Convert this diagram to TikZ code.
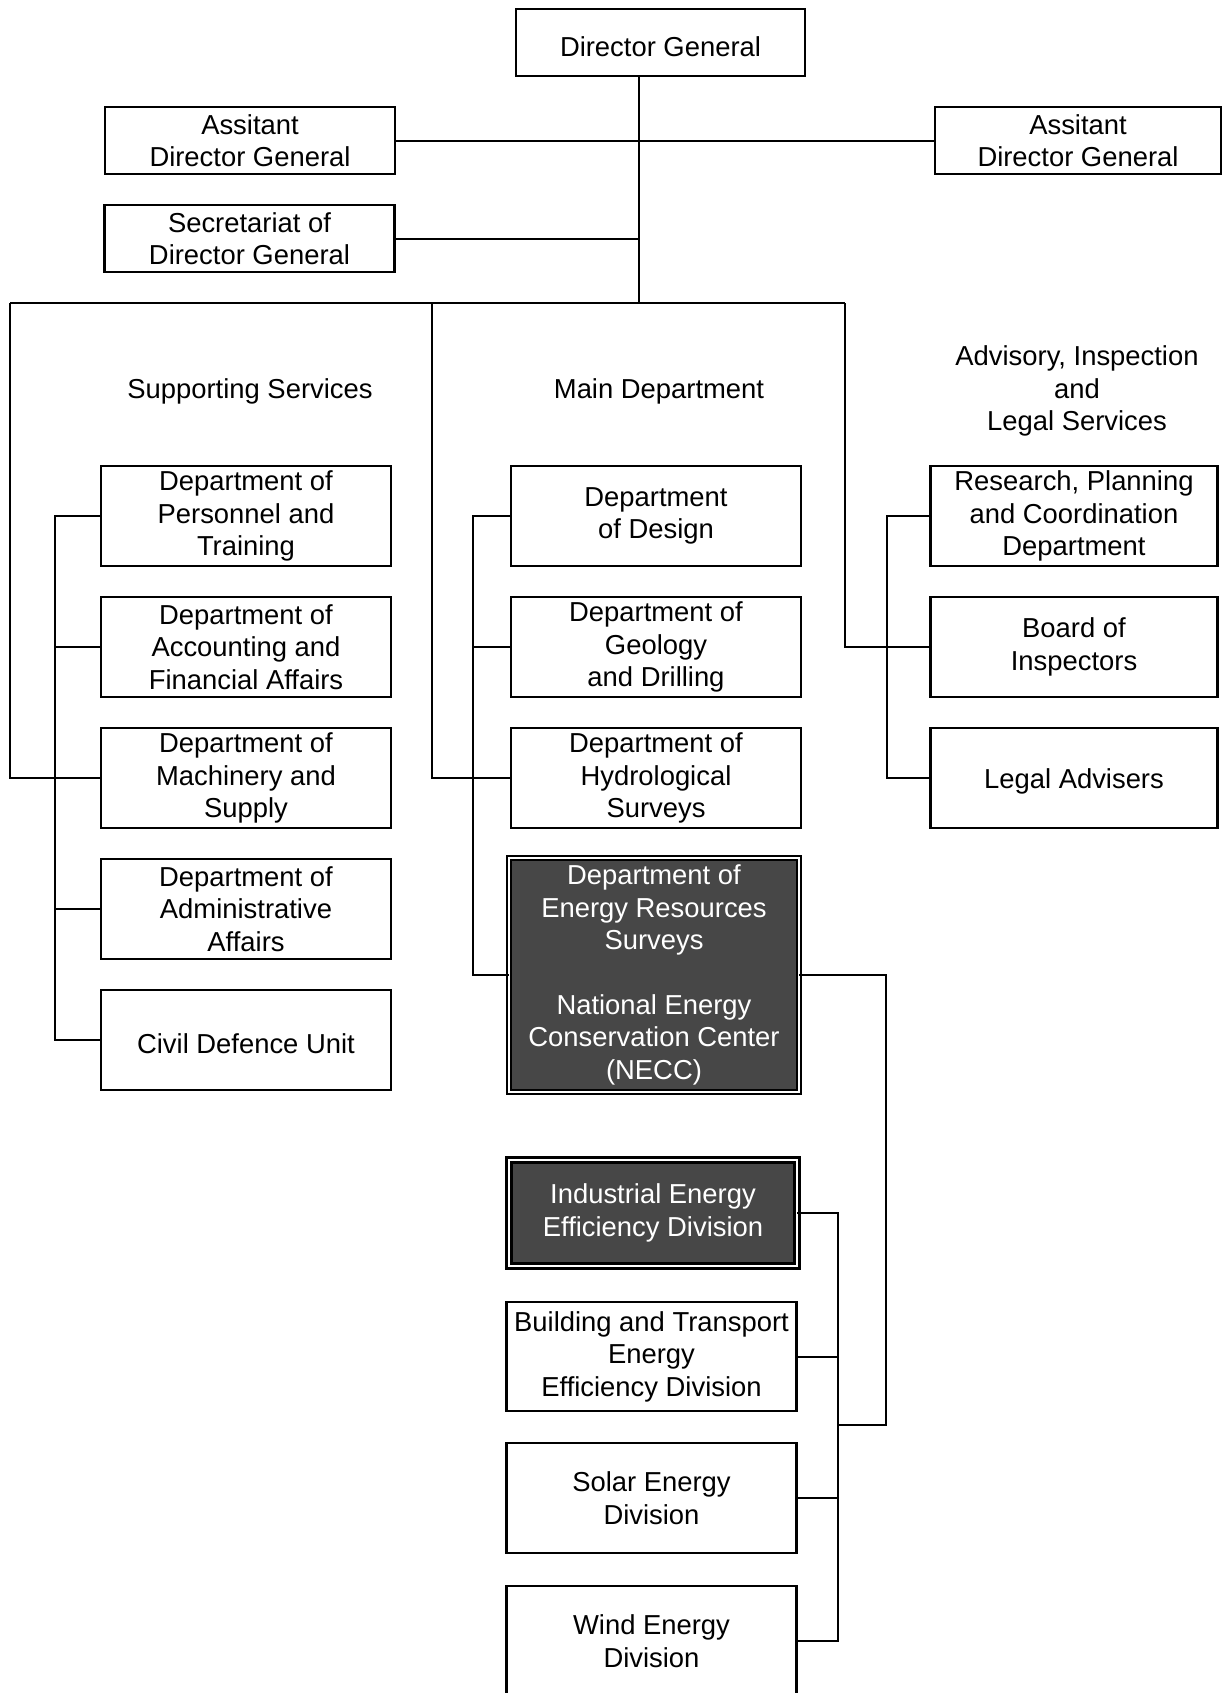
\documentclass[tikz,border=0pt]{standalone}
\usepackage{fontspec}
\setmainfont{Liberation Sans}
\usetikzlibrary{positioning}

\begin{document}
\begin{tikzpicture}[x=0.5pt,y=-0.5pt,
  node distance=15.5pt,
  orgbox/.style={rectangle,draw,line width=1.3pt,outer sep=0pt,inner sep=0pt,minimum width=145pt,minimum height=50pt,align=center,font=\fontsize{13.7pt}{16.2pt}\selectfont,execute at begin node={\rule{0pt}{13.8pt}}},
  darkbox/.style={orgbox,fill=black!72,text=white,line width=0.8pt,double=white,double distance=1.2pt},
  heading/.style={align=center,font=\fontsize{13.7pt}{16.2pt}\selectfont},
  link/.style={line width=1pt}]
\useasboundingbox (0,0) rectangle (1222,1693);
% top level
\node[orgbox,minimum width=144.5pt,minimum height=33.5pt] (dg) at (660.5,42.5) {Director General};
\node[orgbox,minimum height=33.5pt] (adgL) at (250,140.5) {Assitant\\Director General};
\node[orgbox,minimum width=143pt,minimum height=33.5pt] (adgR) at (1078,140.5) {Assitant\\Director General};
\node[orgbox,minimum height=33.5pt] (sec) at (249.5,238.5) {Secretariat of\\Director General};
% column headings
\node[heading] (sup) at (250,391) {Supporting Services};
\node[heading] (main) at (659,391) {Main Department};
\node[heading] (adv) at (1077,391) {Advisory, Inspection\\and\\Legal Services};
% supporting services
\node[orgbox] (pers) at (246,516) {Department of\\Personnel and\\Training};
\node[orgbox,below=of pers] (acc) {Department of\\Accounting and\\Financial Affairs};
\node[orgbox,below=of acc] (mach) {Department of\\Machinery and\\Supply};
\node[orgbox,below=of mach] (admin) {Department of\\Administrative\\Affairs};
\node[orgbox,below=of admin] (civil) {Civil Defence Unit};
% main department
\node[orgbox] (design) at (656,516) {Department\\of Design};
\node[orgbox,below=of design] (geo) {Department of\\Geology\\and Drilling};
\node[orgbox,below=of geo] (hydro) {Department of\\Hydrological\\Surveys};
\node[darkbox,minimum width=145pt,minimum height=117pt] (energy) at (654,975) {Department of\\Energy Resources\\Surveys\\[16.2pt]National Energy\\Conservation Center\\(NECC)};
\node[darkbox,line width=1.4pt,minimum width=144pt,minimum height=53pt] (ind) at (653,1213) {Industrial Energy\\Efficiency Division};
\node[orgbox,minimum height=54.5pt] (build) at (651.5,1356.5) {Building and Transport\\Energy\\Efficiency Division};
\node[orgbox,minimum height=55pt,below=16pt of build] (solar) {Solar Energy\\Division};
\node[orgbox,minimum height=55pt,below=16.5pt of solar] (wind) {Wind Energy\\Division};
% advisory, inspection and legal services
\node[orgbox,minimum width=143.5pt] (res) at (1074,516) {Research, Planning\\and Coordination\\Department};
\node[orgbox,minimum width=143.5pt,below=of res] (board) {Board of\\Inspectors};
\node[orgbox,minimum width=143.5pt,below=of board] (legal) {Legal Advisers};
% connectors
\coordinate (trunk) at (639,303);
\coordinate (busL) at (10,303);
\coordinate (busM) at (432,303);
\coordinate (busR) at (845,303);
\coordinate (lbus) at (55,0);
\coordinate (mbus) at (473,0);
\coordinate (rbus) at (887,0);
\coordinate (dbus) at (838,0);
\coordinate (ejoin) at (886,1425);
\draw[link] (trunk |- dg.south) -- (trunk);
\draw[link] (adgL) -- (adgR);
\draw[link] (sec) -- (sec -| trunk);
\draw[link] (busL) -- (busR);
\draw[link] (busL) |- (mach.west);
\draw[link] (busM) |- (hydro.west);
\draw[link] (busR) |- (board.west);
\draw[link] (pers.west) -| (lbus |- civil) -- (civil.west);
\foreach \n in {acc,mach,admin} \draw[link] (\n.west) -- (lbus |- \n);
\draw[link] (design.west) -| (mbus |- energy) -- (energy.west);
\foreach \n in {geo,hydro} \draw[link] (\n.west) -- (mbus |- \n);
\draw[link] (res.west) -| (rbus |- legal) -- (legal.west);
\draw[link] (energy.east) -| (ejoin) -- (dbus |- ejoin);
\draw[link] (ind.east) -| (dbus |- wind) -- (wind.east);
\foreach \n in {build,solar} \draw[link] (\n.east) -- (dbus |- \n);
\end{tikzpicture}
\end{document}
